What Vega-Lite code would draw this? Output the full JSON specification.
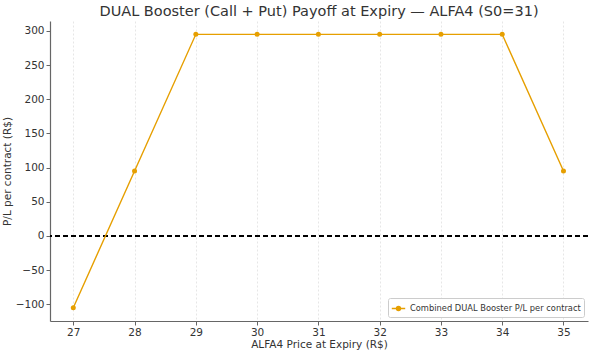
{
  "$schema": "https://vega.github.io/schema/vega-lite/v6.json",
  "autosize": "none",
  "width": 538,
  "height": 300,
  "padding": {"left": 50, "top": 21, "right": 6, "bottom": 33},
  "background": "white",
  "title": {"text": "DUAL Booster (Call + Put) Payoff at Expiry — ALFA4 (S0=31)", "font": "DejaVu Sans", "fontSize": 14.5, "fontWeight": "normal", "color": "#333333", "offset": 2},
  "config": {
    "font": "DejaVu Sans",
    "view": {"stroke": null},
    "axis": {"labelFont": "DejaVu Sans", "titleFont": "DejaVu Sans", "labelFontSize": 10.5, "titleFontSize": 10.5, "labelColor": "#333333", "titleColor": "#333333", "titleFontWeight": "normal", "domainColor": "#666666", "domainWidth": 1.2, "tickColor": "#666666", "gridColor": "#e0e0e0", "gridDash": [2, 2], "gridWidth": 0.8, "labelOverlap": false}
  },
  "data": {"values": [
    {"price": 27, "pl": -105, "series": "Combined DUAL Booster P/L per contract"},
    {"price": 28, "pl": 95, "series": "Combined DUAL Booster P/L per contract"},
    {"price": 29, "pl": 295, "series": "Combined DUAL Booster P/L per contract"},
    {"price": 30, "pl": 295, "series": "Combined DUAL Booster P/L per contract"},
    {"price": 31, "pl": 295, "series": "Combined DUAL Booster P/L per contract"},
    {"price": 32, "pl": 295, "series": "Combined DUAL Booster P/L per contract"},
    {"price": 33, "pl": 295, "series": "Combined DUAL Booster P/L per contract"},
    {"price": 34, "pl": 295, "series": "Combined DUAL Booster P/L per contract"},
    {"price": 35, "pl": 95, "series": "Combined DUAL Booster P/L per contract"}
  ]},
  "layer": [
    {
      "mark": {"type": "rule", "color": "black", "strokeDash": [5, 3], "strokeWidth": 1.2},
      "encoding": {"y": {"datum": 0, "type": "quantitative", "scale": {"domain": [-124.5, 314.5], "nice": false, "zero": false}, "axis": {"values": [-100, -50, 0, 50, 100, 150, 200, 250, 300], "labelExpr": "replace(datum.label, '-', '−')", "title": "P/L per contract (R$)", "titlePadding": 3, "tickSize": 4, "labelPadding": 2}}}
    },
    {
      "mark": {"type": "line", "strokeWidth": 1.4, "point": {"size": 25, "filled": true}},
      "encoding": {
        "x": {"field": "price", "type": "quantitative", "scale": {"domain": [26.62, 35.4], "nice": false, "zero": false}, "axis": {"values": [27, 28, 29, 30, 31, 32, 33, 34, 35], "title": "ALFA4 Price at Expiry (R$)", "titlePadding": 2, "tickSize": 4, "labelPadding": 2}},
        "y": {"field": "pl", "type": "quantitative", "scale": {"domain": [-124.5, 314.5], "nice": false, "zero": false}, "axis": {"values": [-100, -50, 0, 50, 100, 150, 200, 250, 300], "labelExpr": "replace(datum.label, '-', '−')", "title": "P/L per contract (R$)", "titlePadding": 3, "tickSize": 4, "labelPadding": 2}},
        "color": {"field": "series", "type": "nominal", "scale": {"range": ["#E69F00"]}, "legend": {"title": null, "orient": "bottom-right", "offset": 4, "symbolType": "M-1,0H1M-0.3,0A0.3,0.3 0 1,0 0.3,0A0.3,0.3 0 1,0 -0.3,0Z", "symbolFillColor": "#E69F00", "symbolStrokeWidth": 1.4, "labelFontSize": 8.3, "labelLimit": 400, "labelColor": "#333333", "strokeColor": "#cccccc", "fillColor": "white", "padding": 3, "cornerRadius": 2, "symbolSize": 180}}
      }
    }
  ]
}
